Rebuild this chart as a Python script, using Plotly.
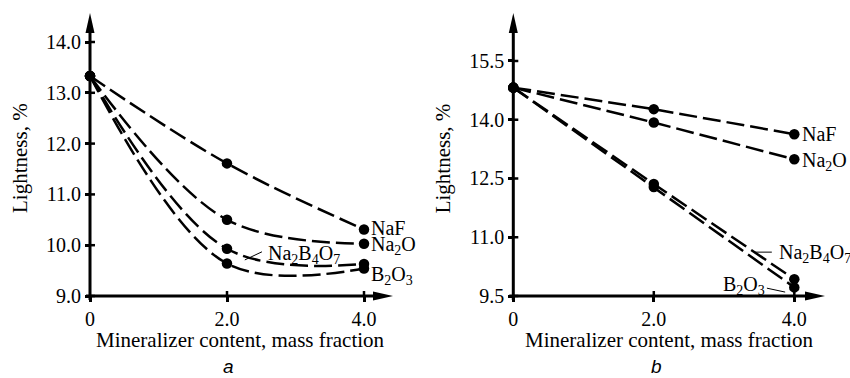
import plotly.graph_objects as go

W, H = 850, 378

# ---- data -------------------------------------------------------------
content = [0.0, 2.0, 4.0]
content_tickvals = [0.0, 2.0, 4.0]
content_ticktext = ["0", "2.0", "4.0"]

# panel a
a_naf = [13.33, 11.61, 10.31]
a_na2o = [13.33, 10.50, 10.03]
a_na2b4o7 = [13.33, 9.93, 9.63]
a_b2o3 = [13.33, 9.64, 9.54]
a_yticks = [9.0, 10.0, 11.0, 12.0, 13.0, 14.0]

# panel b
b_naf = [14.82, 14.27, 13.63]
b_na2o = [14.82, 13.93, 12.99]
b_na2b4o7 = [14.82, 12.36, 9.93]
b_b2o3 = [14.82, 12.28, 9.72]
b_yticks = [9.5, 11.0, 12.5, 14.0, 15.5]

names = ["NaF", "Na<sub>2</sub>O", "Na<sub>2</sub>B<sub>4</sub>O<sub>7</sub>",
         "B<sub>2</sub>O<sub>3</sub>"]

SERIF = "Liberation Serif, Times New Roman, serif"
SANS = "Liberation Sans, Arial, sans-serif"
TICK_SIZE = 20
TITLE_SIZE = 21
LABEL_SIZE = 20

# ---- panel geometry (pixels) -----------------------------------------
panels = {
    "a": dict(x0=90.0, xk=68.5, ybase=9.0, y0=296.0, yk=50.8,
              dom_x=(60, 420), dom_y=(5, 318), xtip=393.0, ytip=13.0),
    "b": dict(x0=513.3, xk=70.25, ybase=9.5, y0=296.0, yk=39.17,
              dom_x=(480, 848), dom_y=(5, 318), xtip=825.0, ytip=13.0),
}


def xval(p, px):
    return (px - p["x0"]) / p["xk"]


def yval(p, py):
    return p["ybase"] + (p["y0"] - py) / p["yk"]


fig = go.Figure()

dash = "18px,6px"
series = {
    "a": [a_naf, a_na2o, a_na2b4o7, a_b2o3],
    "b": [b_naf, b_na2o, b_na2b4o7, b_b2o3],
}
axes = {"a": ("x", "y"), "b": ("x2", "y2")}
line_shape = {"a": "spline", "b": "linear"}

for key, lists in series.items():
    xr, yr = axes[key]
    for vals, name in zip(lists, names):
        fig.add_trace(go.Scatter(
            x=content, y=vals, xaxis=xr, yaxis=yr, name=name,
            mode="lines+markers", cliponaxis=False,
            line=dict(color="black", width=2.5, dash=dash,
                      shape=line_shape[key], smoothing=1.0),
            marker=dict(color="black", size=10.5),
            showlegend=False, hoverinfo="skip",
        ))

shapes = []
annotations = []


def add_axes(key, yticks):
    p = panels[key]
    xr, yr = axes[key]
    # axis lines
    shapes.append(dict(type="line", xref=xr, yref=yr, layer="above",
                       x0=xval(p, p["x0"] - 4), x1=xval(p, p["xtip"] - 10),
                       y0=p["ybase"], y1=p["ybase"],
                       line=dict(color="black", width=3)))
    shapes.append(dict(type="line", xref=xr, yref=yr, layer="above",
                       x0=0, x1=0,
                       y0=yval(p, p["y0"] + 4), y1=yval(p, p["ytip"] + 10),
                       line=dict(color="black", width=3)))
    # arrow heads
    shapes.append(dict(type="path", xref=xr, yref=yr, layer="above",
                       xsizemode="pixel", ysizemode="pixel",
                       xanchor=xval(p, p["xtip"]), yanchor=p["ybase"],
                       path="M0,0 L-20,4.5 L-20,-4.5 Z",
                       fillcolor="black", line=dict(width=0)))
    shapes.append(dict(type="path", xref=xr, yref=yr, layer="above",
                       xsizemode="pixel", ysizemode="pixel",
                       xanchor=0, yanchor=yval(p, p["ytip"]),
                       path="M0,0 L-4.5,-20 L4.5,-20 Z",
                       fillcolor="black", line=dict(width=0)))
    # inner halves of the crossing tick marks
    for v in yticks:
        shapes.append(dict(type="line", xref=xr, yref=yr, layer="above",
                           xsizemode="pixel", xanchor=0, x0=0, x1=5,
                           y0=v, y1=v, line=dict(color="black", width=2.5)))
    for v in content_tickvals[1:]:
        shapes.append(dict(type="line", xref=xr, yref=yr, layer="above",
                           ysizemode="pixel", yanchor=p["ybase"], y0=0, y1=5,
                           x0=v, x1=v, line=dict(color="black", width=2.5)))
    # axis titles and panel letter
    cx = {"a": 241, "b": 669}[key]
    annotations.append(dict(xref="paper", yref="paper", x=cx / W, y=1 - 340 / H,
                            text="Mineralizer content, mass fraction",
                            showarrow=False, xanchor="center", yanchor="middle",
                            font=dict(family=SERIF, size=TITLE_SIZE, color="black")))
    annotations.append(dict(xref="paper", yref="paper",
                            x=(p["x0"] - 70) / W, y=1 - 158 / H,
                            text="Lightness, %", textangle=-90,
                            showarrow=False, xanchor="center", yanchor="middle",
                            font=dict(family=SERIF, size=TITLE_SIZE, color="black")))
    lx = {"a": 228, "b": 656}[key]
    annotations.append(dict(xref="paper", yref="paper", x=lx / W, y=1 - 366 / H,
                            text="<i>%s</i>" % key, showarrow=False,
                            xanchor="center", yanchor="middle",
                            font=dict(family=SANS, size=19, color="black")))


add_axes("a", a_yticks)
add_axes("b", b_yticks)


def label(xr, yr, x, y, text, xshift=0, yshift=0):
    annotations.append(dict(xref=xr, yref=yr, x=x, y=y, text=text,
                            showarrow=False, xanchor="left", yanchor="middle",
                            xshift=xshift, yshift=yshift,
                            font=dict(family=SERIF, size=LABEL_SIZE, color="black")))


def leader(xr, yr, x0, y0, x1, y1):
    shapes.append(dict(type="line", xref=xr, yref=yr, x0=x0, y0=y0, x1=x1, y1=y1,
                       line=dict(color="black", width=1)))


# panel a labels
label("x", "y", 4.0, a_naf[-1], names[0], xshift=5, yshift=1)
label("x", "y", 4.0, a_na2o[-1], names[1], xshift=5, yshift=-2)
label("x", "y", 4.0, a_b2o3[-1], names[3], xshift=5, yshift=-7)
label("x", "y", 2.57, 9.87, names[2], yshift=-3)
leader("x", "y", 2.26, 9.71, 2.51, 9.87)

# panel b labels
label("x2", "y2", 4.0, b_naf[-1], names[0], xshift=6)
label("x2", "y2", 4.0, b_na2o[-1], names[1], xshift=6, yshift=-2)
label("x2", "y2", 3.75, 10.67, names[2], yshift=-3)
leader("x2", "y2", 3.44, 10.62, 3.68, 10.62)
label("x2", "y2", 2.96, 9.83, names[3], yshift=-2)
leader("x2", "y2", 3.61, 9.70, 3.87, 9.60)

layout = dict(
    width=W, height=H,
    margin=dict(l=0, r=0, t=0, b=0),
    paper_bgcolor="white", plot_bgcolor="rgba(0,0,0,0)",
    shapes=shapes, annotations=annotations,
)

for key, yticks in (("a", a_yticks), ("b", b_yticks)):
    p = panels[key]
    suffix = "" if key == "a" else "2"
    lo, hi = p["dom_x"]
    top, bot = p["dom_y"]
    tick_font = dict(family=SERIF, size=TICK_SIZE, color="black")
    layout["xaxis" + suffix] = dict(
        domain=[lo / W, hi / W], range=[xval(p, lo), xval(p, hi)],
        anchor="free", position=1 - p["y0"] / H,
        tickvals=content_tickvals, ticktext=content_ticktext,
        ticks="outside", ticklen=5, tickwidth=2.5, tickcolor="black",
        showgrid=False, zeroline=False, showline=False,
        tickfont=tick_font, fixedrange=True,
    )
    layout["yaxis" + suffix] = dict(
        domain=[1 - bot / H, 1 - top / H], range=[yval(p, bot), yval(p, top)],
        anchor="free", position=p["x0"] / W,
        tickvals=yticks, tickformat=".1f",
        ticks="outside", ticklen=5, tickwidth=2.5, tickcolor="black",
        showgrid=False, zeroline=False, showline=False,
        tickfont=tick_font, fixedrange=True,
    )

fig.update_layout(**layout)
fig.write_html("out.html")
